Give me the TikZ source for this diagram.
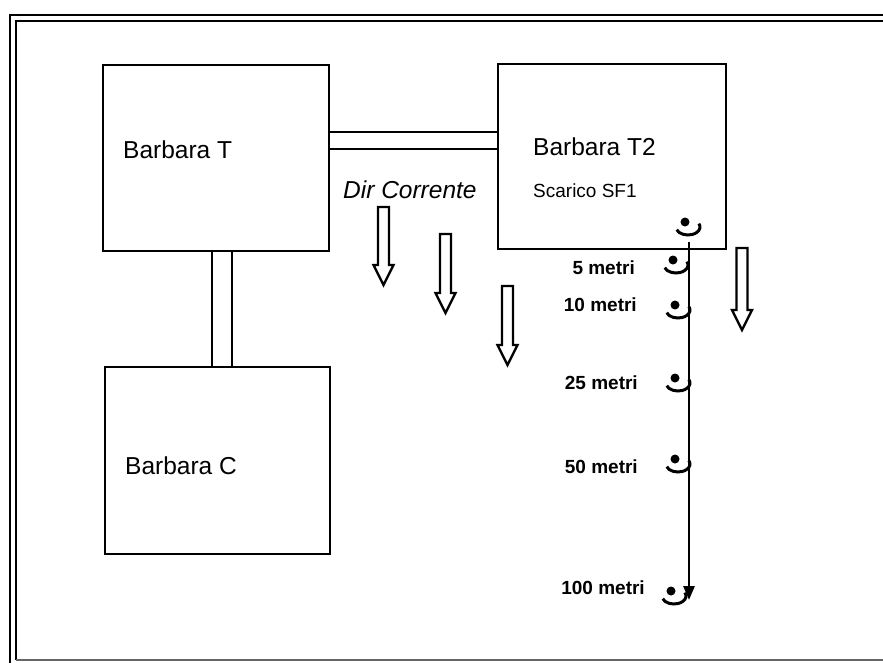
\documentclass[tikz,border=0pt]{standalone}
\usepackage{fontspec}
\setmainfont{Liberation Sans}
\usetikzlibrary{arrows.meta,calc}
\tikzset{
  box/.style={draw, line width=2.9pt, inner sep=0pt, outer sep=0pt},
  big/.style={font=\fontsize{24.5}{28}\selectfont, anchor=west, inner sep=0pt},
  small/.style={font=\fontsize{19}{22}\selectfont, anchor=west, inner sep=0pt},
  dist/.style={font=\bfseries\fontsize{19}{22}\selectfont, anchor=east, inner sep=0pt},
  pipe/.style={line width=2.7pt},
  pics/hollow/.style={code={
    \pgfmathsetmacro\hb{#1-20}
    \draw[line width=2.3pt, line join=miter]
      (-5.5,0) -- (5.5,0) -- (5.5,\hb) -- (10,\hb) -- (0,#1) -- (-10,\hb) -- (-5.5,\hb) -- cycle;
  }},
  pics/sampler/.style={code={
    \fill (0,0) circle (4.5);
    \draw[line width=3pt] (3,5) ++(160:12 and 8) arc[start angle=160, end angle=-25, x radius=12, y radius=8];
  }}
}
\begin{document}
\begin{tikzpicture}[x=1pt,y=-1pt]
\useasboundingbox (0,0) rectangle (883,662);
% outer frame
\draw[line width=2.4pt] (10,663) -- (10,15) -- (883,15);
\draw[line width=2pt] (16,660) -- (16,21) -- (883,21);
\draw[line width=1.4pt, black!60] (16,660) -- (883,660);

% boxes
\node[box, minimum width=226pt, minimum height=186pt] (T) at (216,158) {};
\node[box, minimum width=225pt, minimum height=187pt] (C) at (217.5,460.5) {};
\node[box, minimum width=228pt, minimum height=185pt] (T2) at (612,156.5) {};

\node[big] (tT) at (123,150) {Barbara T};
\node[big] (tC) at (125,466) {Barbara C};
\node[big] (tT2) at (533,147) {Barbara T2};
\node[small] (tSF) at (533,191) {Scarico SF1};
\node[big, font=\itshape\fontsize{24.5}{28}\selectfont] (dir) at (343,190) {Dir Corrente};

% pipes
\draw[pipe] ($(T.north east)+(0,67)$) -- ($(T2.north west)+(0,68)$);
\draw[pipe] ($(T.north east)+(0,84)$) -- ($(T2.north west)+(0,85)$);
\draw[pipe] ($(T.south west)+(109,0)$) -- ($(C.north west)+(107,0)$);
\draw[pipe] ($(T.south west)+(129,0)$) -- ($(C.north west)+(127,0)$);

% current arrows
\pic (a1) at (383.5,207) {hollow=78};
\pic (a2) at (445.5,234) {hollow=79};
\pic (a3) at (507.5,286) {hollow=79};
\pic (a4) at (742,248) {hollow=82};

% transect line
\coordinate (ltop) at (689,242);
\coordinate (lbot) at (689,600);
\draw[line width=2.8pt, -{Triangle[width=11pt,length=14pt]}] (ltop) -- (lbot);

% samplers
\pic (s0) at (685,222) {sampler};
\pic (s5) at (673,260) {sampler};
\pic (s10) at (675,305) {sampler};
\pic (s25) at (675,378) {sampler};
\pic (s50) at (675,459) {sampler};
\pic (s100) at (671,591) {sampler};

\node[dist] (d5) at (635,268) {5 metri};
\node[dist] (d10) at (637,305) {10 metri};
\node[dist] (d25) at (638,383) {25 metri};
\node[dist] (d50) at (638,467) {50 metri};
\node[dist] (d100) at (645,588) {100 metri};
\end{tikzpicture}
\end{document}
